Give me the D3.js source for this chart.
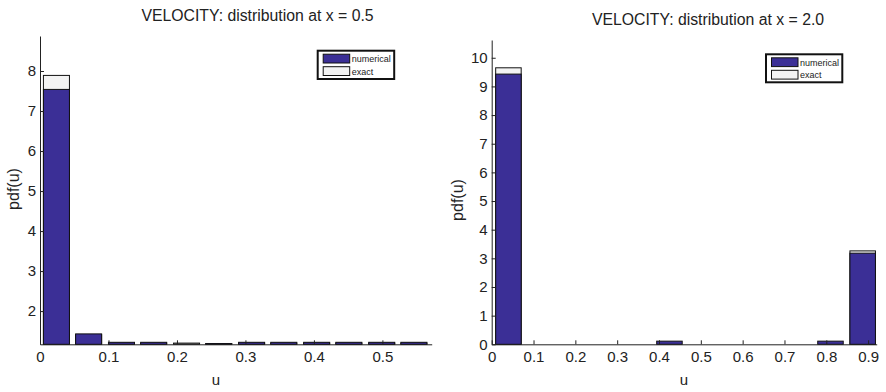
<!DOCTYPE html>
<html>
<head>
<meta charset="utf-8">
<script src="https://cdn.jsdelivr.net/npm/d3@7"></script>
<style>
  html, body { margin: 0; padding: 0; background: #fff; }
  svg { display: block; font-family: "Liberation Sans", Arial, Helvetica, sans-serif; }
</style>
</head>
<body>
<svg id="chart" width="886" height="392"></svg>
<script>
// ---------- data ----------
const leftTitle = "VELOCITY: distribution at x = 0.5";
const rightTitle = "VELOCITY: distribution at x = 2.0";
const seriesNames = ["numerical", "exact"];

const leftBinCenters = [0.024, 0.071, 0.119, 0.166, 0.214, 0.261, 0.309, 0.356, 0.404, 0.451, 0.499, 0.546];
const leftNumerical  = [7.54, 1.43, 1.22, 1.22, 1.15, 1.185, 1.22, 1.22, 1.22, 1.22, 1.22, 1.22];
const leftExact      = [7.89, 1.41, 1.20, 1.20, 1.20, 1.19, 1.20, 1.20, 1.20, 1.20, 1.20, 1.20];
const leftXTicks = [0, 0.1, 0.2, 0.3, 0.4, 0.5];
const leftYTicks = [2, 3, 4, 5, 6, 7, 8];
const leftXDomain = [0, 0.572];
const leftYDomain = [1.17, 8.875];
const leftBarWidth = 0.038;

const rightBinCenters = [0.040, 0.117, 0.194, 0.271, 0.348, 0.425, 0.502, 0.579, 0.656, 0.733, 0.810, 0.887];
const rightNumerical  = [9.43, 0, 0, 0, 0, 0.11, 0, 0, 0, 0, 0.11, 3.18];
const rightExact      = [9.65, 0, 0, 0, 0, 0, 0, 0, 0, 0, 0, 3.26];
const rightXTicks = [0, 0.1, 0.2, 0.3, 0.4, 0.5, 0.6, 0.7, 0.8, 0.9];
const rightYTicks = [0, 1, 2, 3, 4, 5, 6, 7, 8, 9, 10];
const rightXDomain = [0, 0.9205];
const rightYDomain = [0, 10.62];
const rightBarWidth = 0.061;

// ---------- styles ----------
const numColor = "#3b2f96";
const exactColor = "#f3f3f3";
const inkColor = "#222";

const svg = d3.select("#chart");

function panel(cfg) {
  const g = svg.append("g");
  const x = d3.scaleLinear().domain(cfg.xDomain).range([cfg.x0, cfg.x1]);
  const y = d3.scaleLinear().domain(cfg.yDomain).range([cfg.y0, cfg.y1]);
  const yMin = cfg.yDomain[0];

  const bars = cfg.centers.map((c, i) => ({ c, num: cfg.num[i], ex: cfg.ex[i] }));

  function drawBars(key, fill) {
    g.append("g").selectAll("rect")
      .data(bars.filter(d => d[key] > yMin))
      .join("rect")
      .attr("x", d => x(d.c - cfg.bw / 2))
      .attr("width", d => x(d.c + cfg.bw / 2) - x(d.c - cfg.bw / 2))
      .attr("y", d => y(d[key]))
      .attr("height", d => y(yMin) - y(d[key]))
      .attr("fill", fill)
      .attr("stroke", "#111")
      .attr("stroke-width", 1);
  }
  drawBars("ex", exactColor);
  drawBars("num", numColor);

  const xAxis = d3.axisBottom(x).tickValues(cfg.xTicks).tickSizeInner(-4).tickSizeOuter(0)
    .tickPadding(7).tickFormat(d => d === 0 ? "0" : d3.format(".1f")(d));
  const yAxis = d3.axisLeft(y).tickValues(cfg.yTicks).tickSizeInner(-4).tickSizeOuter(0)
    .tickPadding(4).tickFormat(d3.format("d"));

  const gx = g.append("g").attr("transform", `translate(0,${cfg.y0})`).call(xAxis);
  const gy = g.append("g").attr("transform", `translate(${cfg.x0},0)`).call(yAxis);
  [gx, gy].forEach(a => {
    a.attr("font-size", null).attr("font-family", null);
    a.selectAll("path.domain").attr("stroke", inkColor);
    a.selectAll(".tick line").attr("stroke", inkColor);
    a.selectAll(".tick text").attr("fill", inkColor).style("font-size", "15px");
  });

  g.append("text").attr("x", cfg.titleX).attr("y", cfg.titleY)
    .attr("text-anchor", "middle").style("font-size", "15.8px").attr("fill", inkColor)
    .text(cfg.title);
  g.append("text").attr("x", cfg.xLabelX).attr("y", 385)
    .attr("text-anchor", "middle").style("font-size", "15px").attr("fill", inkColor)
    .text("u");
  g.append("text").attr("transform", `translate(${cfg.yLabelX},${cfg.yLabelY}) rotate(-90)`)
    .attr("text-anchor", "middle").style("font-size", "16px").attr("fill", inkColor)
    .text("pdf(u)");

  // legend
  const L = cfg.legend;
  const lg = g.append("g");
  lg.append("rect").attr("x", L.x).attr("y", L.y).attr("width", L.w).attr("height", L.h)
    .attr("fill", "#fff").attr("stroke", "#111").attr("stroke-width", 2);
  [numColor, exactColor].forEach((col, i) => {
    lg.append("rect").attr("x", L.x + 5.5).attr("y", L.y + 3.5 + i * 12.5)
      .attr("width", 26.5).attr("height", 8.8)
      .attr("fill", col).attr("stroke", "#111").attr("stroke-width", 1);
    lg.append("text").attr("x", L.x + 34).attr("y", L.y + 11.3 + i * 12.5)
      .style("font-size", "9px").attr("fill", inkColor).text(seriesNames[i]);
  });
}

panel({
  x0: 40, x1: 431.7, y0: 344.3, y1: 36,
  xDomain: leftXDomain, yDomain: leftYDomain,
  centers: leftBinCenters, num: leftNumerical, ex: leftExact, bw: leftBarWidth,
  xTicks: leftXTicks, yTicks: leftYTicks,
  title: leftTitle, titleX: 257.5, titleY: 21,
  xLabelX: 216, yLabelX: 19, yLabelY: 189,
  legend: { x: 317.7, y: 50.7, w: 76.5, h: 28.3 }
});

panel({
  x0: 491.7, x1: 876.7, y0: 344.3, y1: 40,
  xDomain: rightXDomain, yDomain: rightYDomain,
  centers: rightBinCenters, num: rightNumerical, ex: rightExact, bw: rightBarWidth,
  xTicks: rightXTicks, yTicks: rightYTicks,
  title: rightTitle, titleX: 708, titleY: 25,
  xLabelX: 684, yLabelX: 463, yLabelY: 200,
  legend: { x: 766, y: 54.3, w: 76.3, h: 28 }
});
</script>
</body>
</html>
